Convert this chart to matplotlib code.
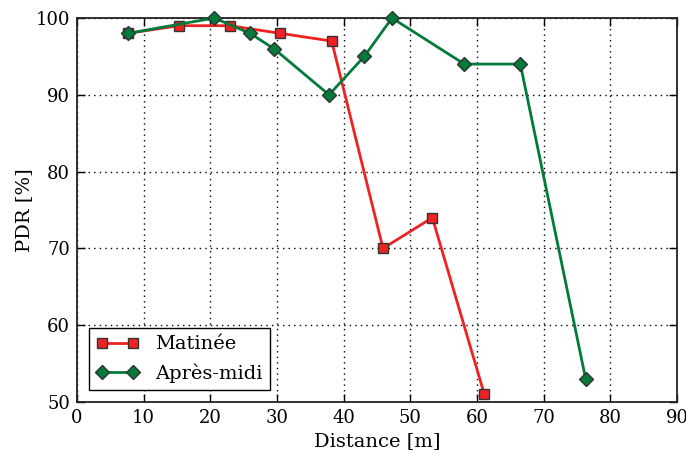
import matplotlib
matplotlib.use("Agg")
from matplotlib import pyplot as plt

plt.rcParams['font.family'] = ['DejaVu Serif']
plt.rcParams['font.size'] = 13

# données
dist_matin = [7.65, 15.3, 22.9, 30.5, 38.2, 45.9, 53.3, 61.1]
pdr_matin = [98, 99, 99, 98, 97, 70, 74, 51]
dist_aprem = [7.65, 20.6, 25.95, 29.55, 37.8, 43.1, 47.25, 58.1, 66.5, 76.3]
pdr_aprem = [98, 100, 98, 96, 90, 95, 100, 94, 94, 53]

fig = plt.figure(figsize=(6.86, 4.54), dpi=100)
ax = fig.add_axes([77 / 686, 1 - 402 / 454, 600 / 686, 384 / 454])

ax.plot(dist_matin, pdr_matin, color='#ee2222', lw=2, marker='s', ms=7.5,
        mfc='#ee2222', mec='#333333', mew=1, label='Matinée', clip_on=False, zorder=3)
ax.plot(dist_aprem, pdr_aprem, color='#007a3a', lw=2, marker='D', ms=7.5,
        mfc='#007a3a', mec='#333333', mew=1, label='Après-midi', clip_on=False, zorder=3)

ax.set_xlim(0, 90)
ax.set_ylim(50, 100)
ax.set_xticks(range(0, 91, 10))
ax.set_yticks(range(50, 101, 10))
ax.grid(True, color='black', linestyle=(0, (1, 3)), linewidth=1.0)
ax.tick_params(direction='in', top=True, right=True, length=6, width=1, labelsize=13, pad=5)
for s in ax.spines.values():
    s.set_linewidth(1.3)
    s.set_color('#222222')

ax.set_xlabel("Distance [m]", fontsize=14, labelpad=4)
ax.set_ylabel("PDR [%]", fontsize=14, labelpad=2)

leg = ax.legend(loc='lower left', fancybox=False, edgecolor='black', numpoints=2,
                framealpha=1, fontsize=14, borderaxespad=0.6, handlelength=2.2,
                borderpad=0.4, labelspacing=0.5)
leg.get_frame().set_linewidth(1.0)

fig.savefig("out.png", dpi=100)
